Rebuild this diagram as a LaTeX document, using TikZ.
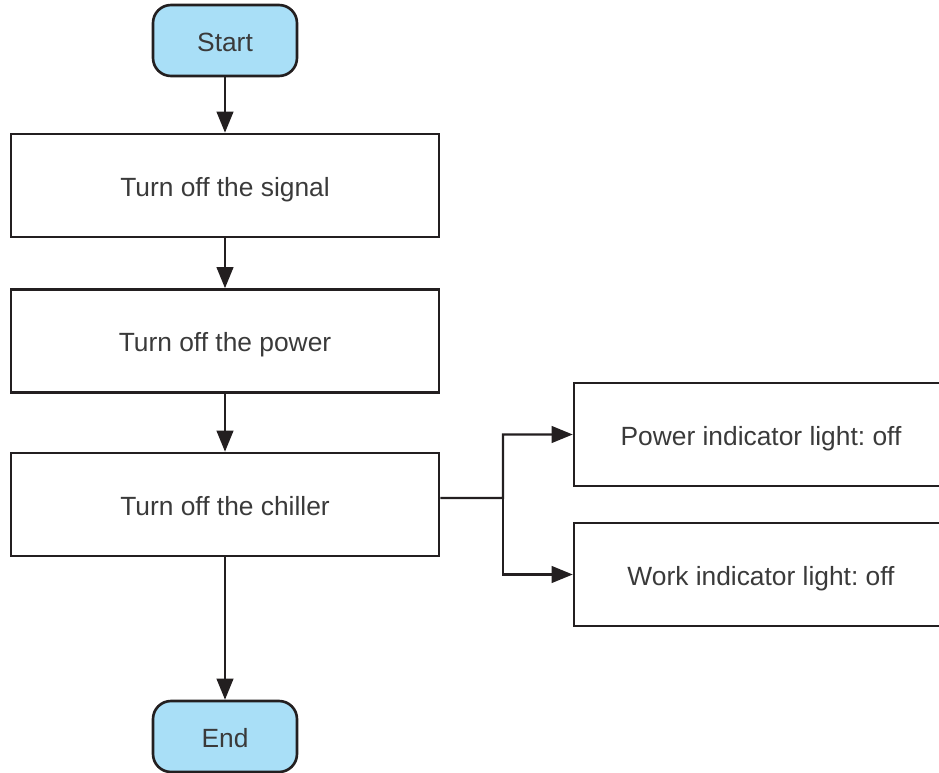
\documentclass[tikz,border=0pt]{standalone}
\usepackage{fontspec}
\setmainfont{Liberation Sans}
\frenchspacing
\usetikzlibrary{arrows.meta}
\definecolor{termblue}{HTML}{A9DFF7}
\definecolor{linedark}{HTML}{231F20}
\definecolor{textdark}{HTML}{3A3A3A}
\begin{document}
\begin{tikzpicture}[x=0.02cm, y=-0.02cm,
    terminal/.style={draw=linedark, line width=1.5pt, fill=termblue, rounded corners=0.36cm,
      minimum width=2.88cm, minimum height=1.42cm, text=textdark, font=\fontsize{15}{18}\selectfont,
      text height=12pt, text depth=0pt},
    stepbox/.style={draw=linedark, line width=1.5pt, minimum width=8.56cm, minimum height=2.06cm,
      text=textdark, font=\fontsize{15}{18}\selectfont, text height=12pt, text depth=0pt},
    lightbox/.style={stepbox, minimum width=7.48cm},
    flow/.style={draw=linedark, line width=1.2pt, -{Triangle[length=12pt, width=9.5pt]}}]
    \useasboundingbox (0,0) rectangle (939,773);

    \node[terminal] (start) at (225, 40.5) {Start};
    \node[stepbox] (signal) at (225, 185.5) {Turn off the signal};
    \node[stepbox] (power) at (225, 341) {Turn off the power};
    \node[stepbox] (chiller) at (225, 504.5) {Turn off the chiller};
    \node[terminal] (end) at (225, 736.5) {End};

    \node[lightbox] (lightA) at (761, 434.5) {Power indicator light: off};
    \node[lightbox] (lightB) at (761, 574.5) {Work indicator light: off};
    \coordinate (fork) at (503, 498);

    % Arrows
    \draw[flow] (start) -- (signal);
    \draw[flow] (signal) -- (power);
    \draw[flow] (power) -- (chiller);
    \draw[flow] (chiller) -- (end);

    \draw[flow] ([yshift=0.13cm]chiller.east) -- (fork) |- (lightA.west);
    \draw[flow] (fork) |- (lightB.west);

\end{tikzpicture}
\end{document}
